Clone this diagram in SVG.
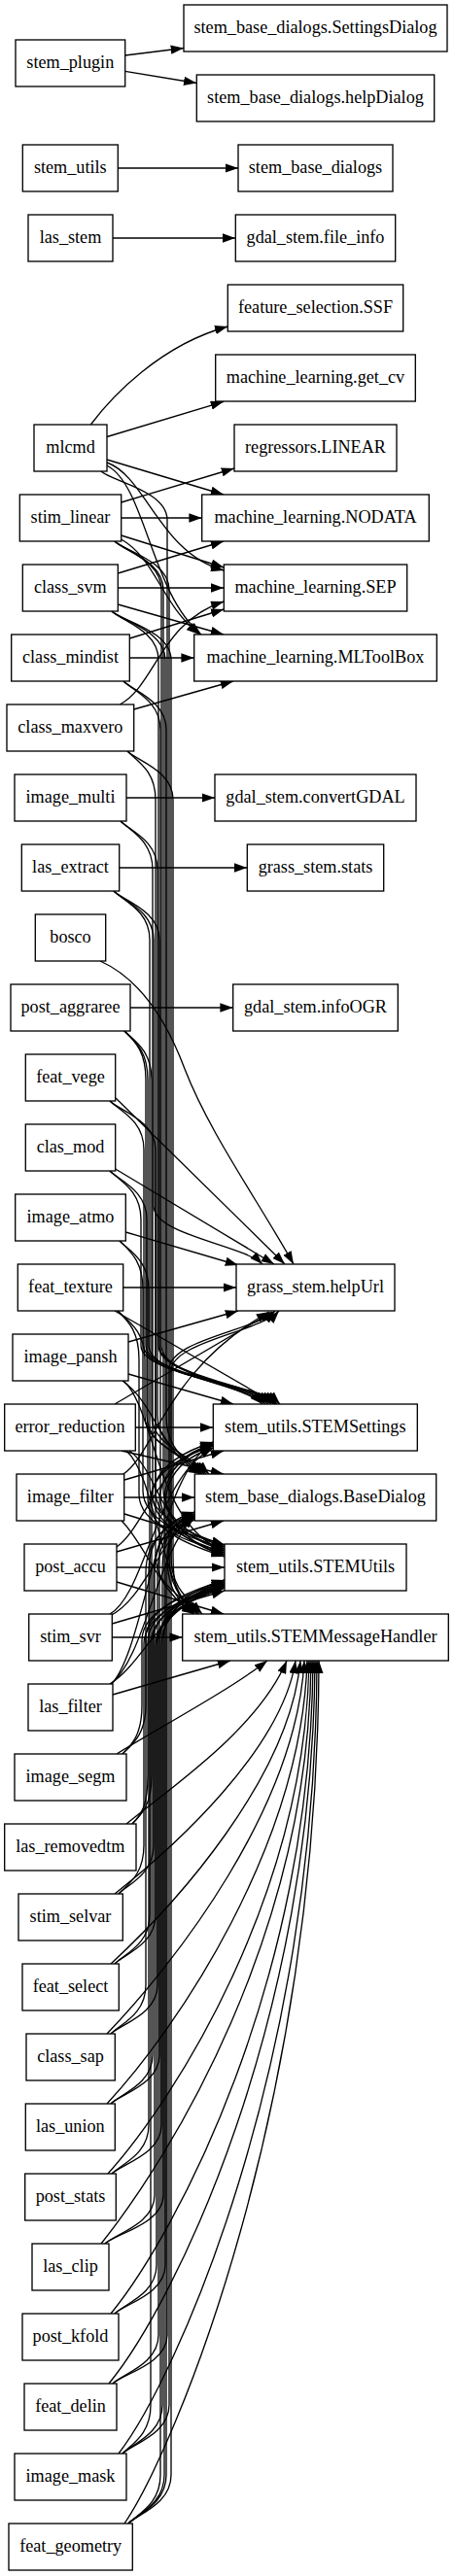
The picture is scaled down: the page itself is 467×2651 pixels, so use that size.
<svg xmlns="http://www.w3.org/2000/svg" width="467" height="2651" viewBox="0 0 467 2651">
<style>
.n rect{fill:#fff;stroke:#000;stroke-width:1.33}
.n text{font-family:"Liberation Serif","Times New Roman",serif;font-size:18.2px;text-anchor:middle;fill:#000}
#edges path{fill:none;stroke:#000;stroke-width:1.33;marker-end:url(#a)}
</style>
<defs>
<marker id="a" viewBox="0 0 13.3 9.3" refX="13.3" refY="4.65" markerWidth="13.3" markerHeight="9.3" markerUnits="userSpaceOnUse" orient="auto"><path d="M0,0L13.3,4.65L0,9.3z" fill="#000"/></marker>
</defs>
<rect width="467" height="2651" fill="#fff"/>
<g id="edges">
<path d="M128.7,57L189,49.5"/>
<path d="M128.7,73.3L202.3,85.5"/>
<path d="M121.3,173L245,173"/>
<path d="M116,245L242.3,245"/>
<path d="M93.3,437C115,408 165,355 234.3,336"/>
<path d="M110,449.5L230,413.3"/>
<path d="M110,473L230,509"/>
<path d="M110,476C150,490 165,570 230.3,587"/>
<path d="M110,479C150,500 155,610 207,653"/>
<path d="M124.7,517L241,482"/>
<path d="M124.7,533L207.7,533"/>
<path d="M124.7,551L230.3,584"/>
<path d="M124.7,555C160,575 165,620 205,653"/>
<path d="M121.3,590L230,557"/>
<path d="M121.3,605L230.3,605"/>
<path d="M121.3,622L230,653"/>
<path d="M133.3,657L230.3,627"/>
<path d="M133.3,677L199.7,677"/>
<path d="M123.3,725C160,705 165,640 230.3,619"/>
<path d="M137.7,730L240,701"/>
<path d="M130,821L221,821"/>
<path d="M122.7,893L254.3,893"/>
<path d="M134,1037L239.7,1037"/>
<path d="M126.7,1325L243,1325"/>
<path d="M139.3,1469L219.3,1469"/>
<path d="M127.7,1541L200.3,1541"/>
<path d="M120,1613L231,1613"/>
<path d="M115.3,1685L187.7,1685"/>
<path d="M119,1130L293,1301"/>
<path d="M118.7,1203L282,1301"/>
<path d="M129.3,1268L245,1302"/>
<path d="M103,989C150,1010 175,1060 190,1100C215,1165 265,1235 302,1301"/>
<path d="M118,1349L284,1445"/>
<path d="M132,1381L245,1349"/>
<path d="M132,1414L240,1445"/>
<path d="M118,1445L280,1350"/>
<path d="M125,1493L230,1517"/>
<path d="M126.7,1517C160,1495 170,1410 277,1350"/>
<path d="M128,1523L230,1493"/>
<path d="M128,1558L231,1590"/>
<path d="M125,1565C150,1590 165,1640 200,1661"/>
<path d="M120,1592C150,1570 165,1500 219.3,1487"/>
<path d="M120,1597L230,1565"/>
<path d="M120,1628L230,1661"/>
<path d="M115.3,1671L231,1637"/>
<path d="M113,1661C150,1640 160,1520 219.3,1490"/>
<path d="M113,1663C150,1645 165,1580 200.3,1562"/>
<path d="M116,1744L237,1709"/>
<path d="M113,1733C150,1710 165,1650 231,1632"/>
<path d="M113,1734C150,1705 160,1600 200.3,1560"/>
<path d="M113,1735C150,1700 160,1520 219.3,1484"/>
<path d="M126,1421C160,1445 165,1495 207,1517"/>
<path d="M127,1421C160,1450 160,1570 231,1596"/>
<path d="M133,1493C165,1515 165,1585 231,1600"/>
<path d="M130,1493C160,1520 165,1630 200,1661"/>
<path d="M104,485C114,495 172,505 172,535L172,1601C172,1631 178,1641 198,1661"/>
<path d="M118,557C128,567 168,577 168,607L168,1532C168,1567 206,1584 231,1592"/>
<path d="M118,557C128,567 174,577 174,607L174,1601C174,1631 183,1641 203,1661"/>
<path d="M118,557C128,567 166,577 166,607L166,1385C166,1415 250,1425 270,1445"/>
<path d="M115,629C125,639 170,649 170,679L170,1536C170,1571 206,1588 231,1596"/>
<path d="M115,629C125,639 176,649 176,679L176,1601C176,1631 188,1641 208,1661"/>
<path d="M115,629C125,639 163,649 163,679L163,1385C163,1415 256,1425 276,1445"/>
<path d="M127,701C137,711 165,721 165,751L165,1540C165,1575 206,1592 231,1600"/>
<path d="M127,701C137,711 171,721 171,751L171,1457C171,1487 185,1497 205,1517"/>
<path d="M131,773C141,783 160,793 160,823L160,1534C160,1569 206,1586 231,1594"/>
<path d="M131,773C141,783 178,793 178,823L178,1601C178,1631 180,1641 200,1661"/>
<path d="M124,845C134,855 162,865 162,895L162,1457C162,1487 190,1497 210,1517"/>
<path d="M124,845C134,855 157,865 157,895L157,1538C157,1573 206,1590 231,1598"/>
<path d="M117,917C127,927 158,937 158,967L158,1241C158,1271 250,1281 270,1301"/>
<path d="M117,917C127,927 164,937 164,967L164,1385C164,1415 262,1425 282,1445"/>
<path d="M117,917C127,927 154,937 154,967L154,1530C154,1565 206,1582 231,1590"/>
<path d="M128,1061C138,1071 150,1081 150,1111L150,1385C150,1415 268,1425 288,1445"/>
<path d="M128,1061C138,1071 156,1081 156,1111L156,1457C156,1487 195,1497 215,1517"/>
<path d="M128,1061C138,1071 152,1081 152,1111L152,1542C152,1577 206,1594 231,1602"/>
<path d="M113,1133C123,1143 148,1153 148,1183L148,1385C148,1415 259,1425 279,1445"/>
<path d="M113,1133C123,1143 160,1153 160,1183L160,1601C160,1631 185,1641 205,1661"/>
<path d="M113,1205C123,1215 145,1225 145,1255L145,1385C145,1415 265,1425 285,1445"/>
<path d="M113,1205C123,1215 151,1225 151,1255L151,1457C151,1487 188,1497 208,1517"/>
<path d="M123,1277C133,1287 147,1297 147,1327L147,1534C147,1569 206,1586 231,1594"/>
<path d="M123,1277C133,1287 153,1297 153,1327L153,1385C153,1415 253,1425 273,1445"/>
<path d="M121,1349C131,1359 149,1369 149,1399L149,1457C149,1487 192,1497 212,1517"/>
<path d="M121,1349C131,1359 143,1369 143,1399L143,1538C143,1573 206,1590 231,1598"/>
<path d="M126,1805C136,1795 146,1785 146,1755L146,1688C146,1653 206,1636 231,1628"/>
<path d="M126,1805C136,1795 150,1785 150,1755L150,1618C150,1583 175,1566 200.3,1558"/>
<path d="M136,1877C146,1867 152,1857 152,1827L152,1690C152,1655 206,1638 231,1630"/>
<path d="M136,1877C146,1867 156,1857 156,1827L156,1544C156,1509 194,1492 219.3,1484"/>
<path d="M122,1949C132,1939 148,1929 148,1899L148,1692C148,1657 206,1640 231,1632"/>
<path d="M122,1949C132,1939 158,1929 158,1899L158,1620C158,1585 175,1568 200.3,1560"/>
<path d="M118,2021C128,2011 160,2001 160,1971L160,1694C160,1659 206,1642 231,1634"/>
<path d="M118,2021C128,2011 154,2001 154,1971L154,1548C154,1513 194,1496 219.3,1488"/>
<path d="M114,2093C124,2083 162,2073 162,2043L162,1622C162,1587 175,1570 200.3,1562"/>
<path d="M114,2093C124,2083 150,2073 150,2043L150,1686C150,1651 206,1634 231,1626"/>
<path d="M114,2165C124,2155 164,2145 164,2115L164,1546C164,1511 194,1494 219.3,1486"/>
<path d="M114,2165C124,2155 157,2145 157,2115L157,1690C157,1655 206,1638 231,1630"/>
<path d="M115,2237C125,2227 166,2217 166,2187L166,1692C166,1657 206,1640 231,1632"/>
<path d="M115,2237C125,2227 153,2217 153,2187L153,1616C153,1581 175,1564 200.3,1556"/>
<path d="M108,2309C118,2299 159,2289 159,2259L159,1620C159,1585 175,1568 200.3,1560"/>
<path d="M108,2309C118,2299 168,2289 168,2259L168,1688C168,1653 206,1636 231,1628"/>
<path d="M118,2381C128,2371 161,2361 161,2331L161,1694C161,1659 206,1642 231,1634"/>
<path d="M118,2381C128,2371 170,2361 170,2331L170,1550C170,1515 194,1498 219.3,1490"/>
<path d="M116,2453C126,2443 163,2433 163,2403L163,1690C163,1655 206,1638 231,1630"/>
<path d="M116,2453C126,2443 172,2433 172,2403L172,1624C172,1589 175,1572 200.3,1564"/>
<path d="M126,2525C136,2515 155,2505 155,2475L155,1692C155,1657 206,1640 231,1632"/>
<path d="M126,2525C136,2515 167,2505 167,2475L167,1618C167,1583 175,1566 200.3,1558"/>
<path d="M126,2525C136,2515 174,2505 174,2475L174,1409C174,1379 263,1369 283,1349"/>
<path d="M132,2597C142,2587 165,2577 165,2547L165,1686C165,1651 206,1634 231,1626"/>
<path d="M132,2597C142,2587 169,2577 169,2547L169,1546C169,1511 194,1494 219.3,1486"/>
<path d="M132,2597C142,2587 171,2577 171,2547L171,1622C171,1587 175,1570 200.3,1562"/>
<path d="M132,2597C142,2587 176,2577 176,2547L176,1411C176,1381 267,1371 287,1349"/>
<path d="M120,1805C160,1780 235,1740 275,1709"/>
<path d="M130,1877C175,1840 265,1780 295,1709"/>
<path d="M118,1949C180,1900 290,1800 304,1709"/>
<path d="M114,2021C180,1960 298,1830 309,1709"/>
<path d="M110,2093C180,2020 305,1860 313,1709"/>
<path d="M110,2165C180,2090 310,1900 316,1709"/>
<path d="M111,2237C180,2160 314,1950 318,1709"/>
<path d="M104,2309C175,2220 318,1990 320,1709"/>
<path d="M114,2381C180,2300 320,2040 322,1709"/>
<path d="M112,2453C180,2370 322,2080 324,1709"/>
<path d="M122,2525C180,2450 325,2130 326,1709"/>
<path d="M128,2597C180,2520 327,2170 328,1709"/>
</g>
<g id="n_stem_plugin" class="n"><rect x="16" y="41" width="112.7" height="48"/><text x="72.3" y="70">stem_plugin</text></g>
<g id="n_stem_utils" class="n"><rect x="23.3" y="149" width="98" height="48"/><text x="72.3" y="178">stem_utils</text></g>
<g id="n_las_stem" class="n"><rect x="29" y="221" width="87" height="48"/><text x="72.5" y="250">las_stem</text></g>
<g id="n_mlcmd" class="n"><rect x="35" y="437" width="75" height="48"/><text x="72.5" y="466">mlcmd</text></g>
<g id="n_stim_linear" class="n"><rect x="20.3" y="509" width="104.4" height="48"/><text x="72.5" y="538">stim_linear</text></g>
<g id="n_class_svm" class="n"><rect x="23.3" y="581" width="98" height="48"/><text x="72.3" y="610">class_svm</text></g>
<g id="n_class_mindist" class="n"><rect x="11.7" y="653" width="121.6" height="48"/><text x="72.5" y="682">class_mindist</text></g>
<g id="n_class_maxvero" class="n"><rect x="7" y="725" width="130.7" height="48"/><text x="72.3" y="754">class_maxvero</text></g>
<g id="n_image_multi" class="n"><rect x="15" y="797" width="115" height="48"/><text x="72.5" y="826">image_multi</text></g>
<g id="n_las_extract" class="n"><rect x="22.3" y="869" width="100.4" height="48"/><text x="72.5" y="898">las_extract</text></g>
<g id="n_bosco" class="n"><rect x="36.3" y="941" width="72.4" height="48"/><text x="72.5" y="970">bosco</text></g>
<g id="n_post_aggraree" class="n"><rect x="11" y="1013" width="123" height="48"/><text x="72.5" y="1042">post_aggraree</text></g>
<g id="n_feat_vege" class="n"><rect x="26.3" y="1085" width="92.4" height="48"/><text x="72.5" y="1114">feat_vege</text></g>
<g id="n_clas_mod" class="n"><rect x="26.3" y="1157" width="92.4" height="48"/><text x="72.5" y="1186">clas_mod</text></g>
<g id="n_image_atmo" class="n"><rect x="15.7" y="1229" width="113.6" height="48"/><text x="72.5" y="1258">image_atmo</text></g>
<g id="n_feat_texture" class="n"><rect x="18.3" y="1301" width="108.4" height="48"/><text x="72.5" y="1330">feat_texture</text></g>
<g id="n_image_pansh" class="n"><rect x="13" y="1373" width="119" height="48"/><text x="72.5" y="1402">image_pansh</text></g>
<g id="n_error_reduction" class="n"><rect x="4.7" y="1445" width="134.6" height="48"/><text x="72" y="1474">error_reduction</text></g>
<g id="n_image_filter" class="n"><rect x="17" y="1517" width="110.7" height="48"/><text x="72.3" y="1546">image_filter</text></g>
<g id="n_post_accu" class="n"><rect x="25" y="1589" width="95" height="48"/><text x="72.5" y="1618">post_accu</text></g>
<g id="n_stim_svr" class="n"><rect x="29.7" y="1661" width="85.6" height="48"/><text x="72.5" y="1690">stim_svr</text></g>
<g id="n_las_filter" class="n"><rect x="29" y="1733" width="87" height="48"/><text x="72.5" y="1762">las_filter</text></g>
<g id="n_image_segm" class="n"><rect x="15" y="1805" width="115" height="48"/><text x="72.5" y="1834">image_segm</text></g>
<g id="n_las_removedtm" class="n"><rect x="4.7" y="1877" width="135.3" height="48"/><text x="72.3" y="1906">las_removedtm</text></g>
<g id="n_stim_selvar" class="n"><rect x="19" y="1949" width="107.3" height="48"/><text x="72.5" y="1978">stim_selvar</text></g>
<g id="n_feat_select" class="n"><rect x="23" y="2021" width="99.3" height="48"/><text x="72.5" y="2050">feat_select</text></g>
<g id="n_class_sap" class="n"><rect x="27" y="2093" width="91.3" height="48"/><text x="72.5" y="2122">class_sap</text></g>
<g id="n_las_union" class="n"><rect x="26.3" y="2165" width="92" height="48"/><text x="72.3" y="2194">las_union</text></g>
<g id="n_post_stats" class="n"><rect x="25.7" y="2237" width="93.6" height="48"/><text x="72.5" y="2266">post_stats</text></g>
<g id="n_las_clip" class="n"><rect x="33" y="2309" width="79" height="48"/><text x="72.5" y="2338">las_clip</text></g>
<g id="n_post_kfold" class="n"><rect x="23" y="2381" width="99" height="48"/><text x="72.5" y="2410">post_kfold</text></g>
<g id="n_feat_delin" class="n"><rect x="25" y="2453" width="95" height="48"/><text x="72.5" y="2482">feat_delin</text></g>
<g id="n_image_mask" class="n"><rect x="15" y="2525" width="115" height="48"/><text x="72.5" y="2554">image_mask</text></g>
<g id="n_feat_geometry" class="n"><rect x="9" y="2597" width="127.3" height="48"/><text x="72.7" y="2626">feat_geometry</text></g>
<g id="n_SettingsDialog" class="n"><rect x="189" y="5" width="271" height="48"/><text x="324.5" y="34">stem_base_dialogs.SettingsDialog</text></g>
<g id="n_helpDialog" class="n"><rect x="202.3" y="77" width="244.4" height="48"/><text x="324.5" y="106">stem_base_dialogs.helpDialog</text></g>
<g id="n_stem_base_dialogs" class="n"><rect x="245" y="149" width="159" height="48"/><text x="324.5" y="178">stem_base_dialogs</text></g>
<g id="n_file_info" class="n"><rect x="242.3" y="221" width="164.4" height="48"/><text x="324.5" y="250">gdal_stem.file_info</text></g>
<g id="n_SSF" class="n"><rect x="234.3" y="293" width="180.4" height="48"/><text x="324.5" y="322">feature_selection.SSF</text></g>
<g id="n_get_cv" class="n"><rect x="221.7" y="365" width="205.6" height="48"/><text x="324.5" y="394">machine_learning.get_cv</text></g>
<g id="n_LINEAR" class="n"><rect x="241" y="437" width="167" height="48"/><text x="324.5" y="466">regressors.LINEAR</text></g>
<g id="n_NODATA" class="n"><rect x="207.7" y="509" width="233.6" height="48"/><text x="324.5" y="538">machine_learning.NODATA</text></g>
<g id="n_SEP" class="n"><rect x="230.3" y="581" width="188.4" height="48"/><text x="324.5" y="610">machine_learning.SEP</text></g>
<g id="n_MLToolBox" class="n"><rect x="199.7" y="653" width="249.6" height="48"/><text x="324.5" y="682">machine_learning.MLToolBox</text></g>
<g id="n_convertGDAL" class="n"><rect x="221" y="797" width="207" height="48"/><text x="324.5" y="826">gdal_stem.convertGDAL</text></g>
<g id="n_grass_stats" class="n"><rect x="254.3" y="869" width="140.4" height="48"/><text x="324.5" y="898">grass_stem.stats</text></g>
<g id="n_infoOGR" class="n"><rect x="239.7" y="1013" width="169.6" height="48"/><text x="324.5" y="1042">gdal_stem.infoOGR</text></g>
<g id="n_helpUrl" class="n"><rect x="243" y="1301" width="163" height="48"/><text x="324.5" y="1330">grass_stem.helpUrl</text></g>
<g id="n_STEMSettings" class="n"><rect x="219.3" y="1445" width="210" height="48"/><text x="324.3" y="1474">stem_utils.STEMSettings</text></g>
<g id="n_BaseDialog" class="n"><rect x="200.3" y="1517" width="248.4" height="48"/><text x="324.5" y="1546">stem_base_dialogs.BaseDialog</text></g>
<g id="n_STEMUtils" class="n"><rect x="231" y="1589" width="187" height="48"/><text x="324.5" y="1618">stem_utils.STEMUtils</text></g>
<g id="n_STEMMessageHandler" class="n"><rect x="187.7" y="1661" width="273.6" height="48"/><text x="324.5" y="1690">stem_utils.STEMMessageHandler</text></g>
</svg>
